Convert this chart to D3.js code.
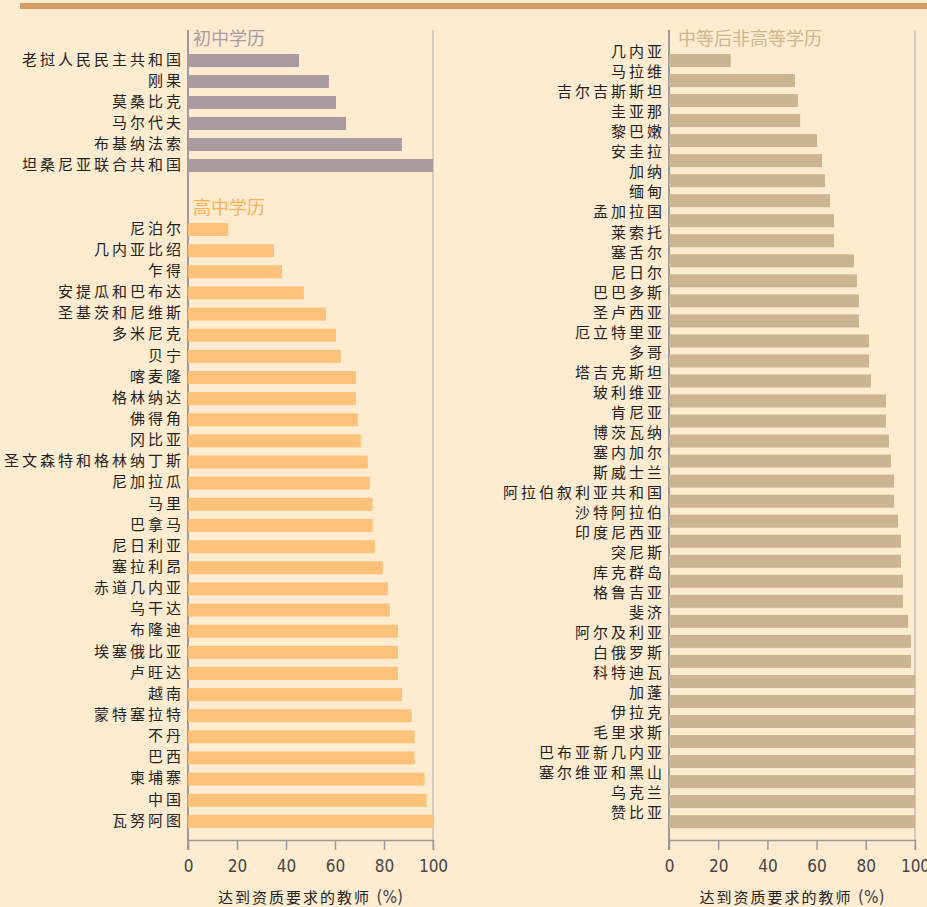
<!DOCTYPE html>
<html>
<head>
<meta charset="utf-8">
<script src="https://cdn.jsdelivr.net/npm/d3@7"></script>
<style>
  html, body { margin: 0; padding: 0; background: #feebd0; }
  svg { display: block; }
</style>
</head>
<body>
<div id="chart"></div>
<script>
/* ===== data ===== */
const juniorNames = ['老挝人民民主共和国', '刚果', '莫桑比克', '马尔代夫', '布基纳法索', '坦桑尼亚联合共和国'];
const juniorValues = [45.3, 57.5, 60.4, 64.5, 87.3, 100];

const highNames = ['尼泊尔', '几内亚比绍', '乍得', '安提瓜和巴布达', '圣基茨和尼维斯', '多米尼克', '贝宁', '喀麦隆',
  '格林纳达', '佛得角', '冈比亚', '圣文森特和格林纳丁斯', '尼加拉瓜', '马里', '巴拿马', '尼日利亚', '塞拉利昂',
  '赤道几内亚', '乌干达', '布隆迪', '埃塞俄比亚', '卢旺达', '越南', '蒙特塞拉特', '不丹', '巴西', '柬埔寨', '中国', '瓦努阿图'];
const highValues = [16.4, 35.1, 38.4, 47.3, 56.3, 60.4, 62.4, 68.5, 68.5, 69.3, 70.6, 73.4, 74.2, 75.4, 75.4, 76.3,
  79.5, 81.6, 82.4, 85.7, 85.7, 85.7, 87.3, 91.3, 92.5, 92.5, 96.6, 97.4, 100];

const postNames = ['几内亚', '马拉维', '吉尔吉斯斯坦', '圭亚那', '黎巴嫩', '安圭拉', '加纳', '缅甸', '孟加拉国', '莱索托',
  '塞舌尔', '尼日尔', '巴巴多斯', '圣卢西亚', '厄立特里亚', '多哥', '塔吉克斯坦', '玻利维亚', '肯尼亚', '博茨瓦纳',
  '塞内加尔', '斯威士兰', '阿拉伯叙利亚共和国', '沙特阿拉伯', '印度尼西亚', '突尼斯', '库克群岛', '格鲁吉亚', '斐济',
  '阿尔及利亚', '白俄罗斯', '科特迪瓦', '加蓬', '伊拉克', '毛里求斯', '巴布亚新几内亚', '塞尔维亚和黑山', '乌克兰', '赞比亚'];
const postValues = [25.1, 51.2, 52.4, 53.3, 60.2, 62.2, 63.4, 65.4, 67.1, 67.1, 75.2, 76.4, 77.2, 77.2, 81.3, 81.3,
  82.1, 88.2, 88.2, 89.4, 90.2, 91.5, 91.5, 93.1, 94.3, 94.3, 95.1, 95.1, 97.2, 98.4, 98.4, 100, 100, 100, 100, 100,
  100, 100, 100];

const xTicks = [0, 20, 40, 60, 80, 100];
const axisTitle = '达到资质要求的教师 (%)';

/* ===== setup ===== */
const W = 927, H = 907;
const labelFont = '"Noto Sans CJK SC", "Noto Sans", sans-serif';
const tickFont = '"Liberation Sans Narrow", "DejaVu Sans Condensed", sans-serif';

const svg = d3.select('#chart').append('svg')
  .attr('width', W)
  .attr('height', H);

svg.append('rect').attr('width', W).attr('height', H).attr('fill', '#feebd0');

// top rule
svg.append('rect')
  .attr('x', 20).attr('y', 3)
  .attr('width', W - 20).attr('height', 6)
  .attr('fill', '#d49c62');

function drawGroup(g, x, names, values, y0, step, color, labelShift) {
  const n = names.length;
  const pad = 1 - 13 / step;
  const y = d3.scaleBand()
    .domain(names)
    .range([y0, y0 + step * (n - pad)])
    .paddingInner(pad)
    .paddingOuter(0);

  const data = names.map((d, i) => ({ name: d, value: values[i] }));

  g.selectAll(null)
    .data(data)
    .join('rect')
    .attr('x', x(0))
    .attr('y', d => y(d.name))
    .attr('width', d => x(d.value) - x(0))
    .attr('height', y.bandwidth())
    .attr('fill', color);

  // country labels
  g.selectAll(null)
    .data(data)
    .join('text')
    .attr('x', x(0) - 4)
    .attr('y', d => y(d.name) + y.bandwidth() / 2 + labelShift)
    .attr('dy', '0.35em')
    .attr('text-anchor', 'end')
    .attr('fill', '#222')
    .attr('font-size', '15px')
    .attr('letter-spacing', '3px')
    .attr('font-family', labelFont)
    .text(d => d.name);
}

function drawPanel(x0, x1) {
  const g = svg.append('g');
  const x = d3.scaleLinear().domain([0, 100]).range([x0, x1]);

  // right boundary line
  g.append('line')
    .attr('x1', x(100)).attr('x2', x(100))
    .attr('y1', 30).attr('y2', 850)
    .attr('stroke', '#d2c9bf')
    .attr('stroke-width', 2);

  // bottom axis
  const axis = g.append('g')
    .attr('transform', 'translate(0,840)')
    .call(d3.axisBottom(x).tickValues(xTicks).tickSize(10).tickPadding(10).tickSizeOuter(0));
  axis.select('.domain').attr('stroke', '#9a9a9a').attr('stroke-width', 1.5);
  axis.selectAll('.tick line').attr('stroke', '#9a9a9a').attr('stroke-width', 1.5);
  axis.selectAll('.tick text')
    .attr('fill', '#444')
    .attr('font-size', '17px')
    .attr('font-family', tickFont);

  // left axis line
  g.append('line')
    .attr('x1', x(0)).attr('x2', x(0))
    .attr('y1', 30).attr('y2', 850)
    .attr('stroke', '#9a9a9a')
    .attr('stroke-width', 2);

  // axis title
  const t = g.append('text')
    .attr('x', (x0 + x1) / 2)
    .attr('y', 903)
    .attr('text-anchor', 'middle')
    .attr('fill', '#222')
    .attr('font-size', '15px')
    .attr('font-family', labelFont);
  t.append('tspan').attr('letter-spacing', '2px').text(axisTitle.split(' ')[0] + ' ');
  t.append('tspan').attr('font-family', tickFont).attr('font-size', '17px').attr('fill', '#444').text(axisTitle.split(' ')[1]);

  return { g, x };
}

function sectionTitle(g, x, y, text, color) {
  g.append('text')
    .attr('x', x)
    .attr('y', y)
    .attr('fill', color)
    .attr('font-size', '18px')
    .attr('font-family', labelFont)
    .text(text);
}

/* ---- left panel ---- */
const left = drawPanel(188, 433);
sectionTitle(left.g, 193, 45, '初中学历', '#a89ba0');
drawGroup(left.g, left.x, juniorNames, juniorValues, 54, 21, '#a89ba0', -1);
sectionTitle(left.g, 193, 214, '高中学历', '#fbb155');
drawGroup(left.g, left.x, highNames, highValues, 223, 21.14, '#fcc27a', -1);

/* ---- right panel ---- */
const right = drawPanel(669, 915);
sectionTitle(right.g, 678, 45, '中等后非高等学历', '#cbb690');
drawGroup(right.g, right.x, postNames, postValues, 54, 20.03, '#cbb48f', -8.5);
</script>
</body>
</html>
